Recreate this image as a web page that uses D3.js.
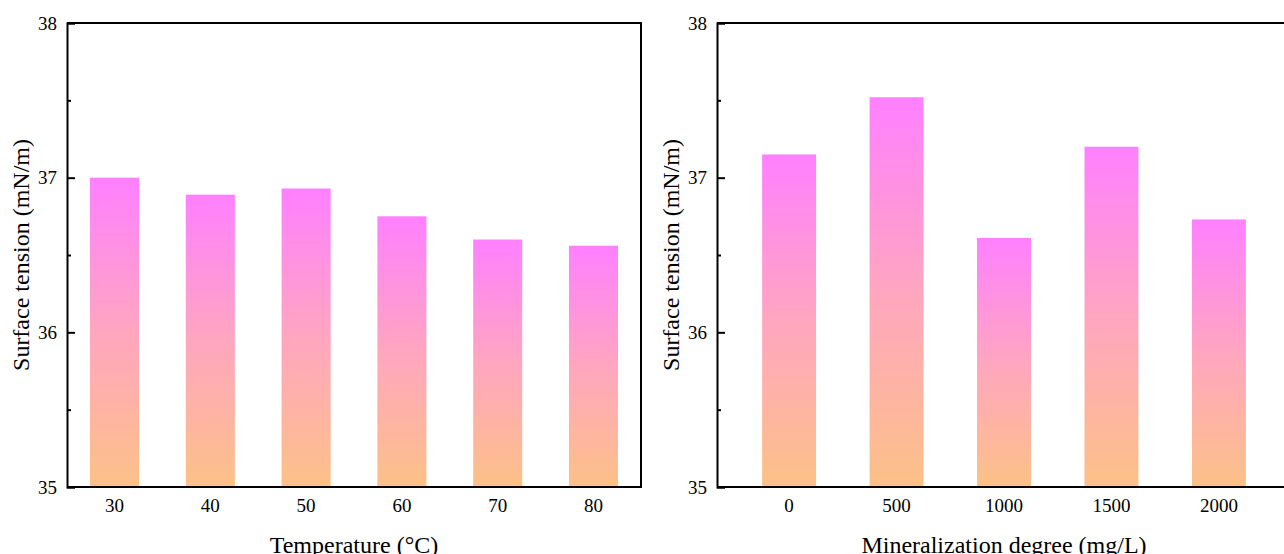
<!DOCTYPE html>
<html>
<head>
<meta charset="utf-8">
<script src="https://cdn.jsdelivr.net/npm/d3@7"></script>
<style>
  body { margin: 0; background: #fff; }
  text { font-family: "Liberation Serif", "Times New Roman", serif; fill: #000; }
</style>
</head>
<body>
<div id="chart-area"></div>
<script>
// Surface tension vs temperature and mineralization
var tempCats = ["30", "40", "50", "60", "70", "80"];
var tempValues = [37.00, 36.89, 36.93, 36.75, 36.60, 36.56];

var minCats = ["0", "500", "1000", "1500", "2000"];
var minValues = [37.15, 37.52, 36.61, 37.20, 36.73];

var yTicks = [35, 36, 37, 38];
var yMinorTicks = [35.5, 36.5, 37.5];

var svg = d3.select("#chart-area").append("svg")
    .attr("width", 1284)
    .attr("height", 554);

var defs = svg.append("defs");
var grad = defs.append("linearGradient")
    .attr("id", "barGrad")
    .attr("x1", 0).attr("y1", 1)
    .attr("x2", 0).attr("y2", 0);
grad.append("stop").attr("offset", "0%").attr("stop-color", "#fcc187");
grad.append("stop").attr("offset", "50%").attr("stop-color", "#ffa6c0");
grad.append("stop").attr("offset", "100%").attr("stop-color", "#ff80ff");

var plotTop = 23, plotBottom = 487, panelW = 574;

function panel(left, cats, values, xTitle, pInner, pOuter, rightBorder) {
    var g = svg.append("g");
    var x = d3.scaleBand().domain(cats).range([left, left + panelW])
        .paddingInner(pInner).paddingOuter(pOuter);
    var y = d3.scaleLinear().domain([35, 38]).range([plotBottom, plotTop]);

    g.selectAll("rect.bar")
        .data(values)
        .enter().append("rect")
        .attr("class", "bar")
        .attr("x", (d, i) => x(cats[i]))
        .attr("width", x.bandwidth())
        .attr("y", (d) => y(d))
        .attr("height", (d) => y(35) - y(d))
        .attr("fill", "url(#barGrad)");

    // frame
    g.append("line").attr("x1", left).attr("x2", left + panelW)
        .attr("y1", plotTop).attr("y2", plotTop)
        .attr("stroke", "#000").attr("stroke-width", 2);
    if (rightBorder) {
        g.append("line").attr("x1", left + panelW).attr("x2", left + panelW)
            .attr("y1", plotTop - 1).attr("y2", plotBottom + 1)
            .attr("stroke", "#000").attr("stroke-width", 2);
    }

    // y axis
    var yAxis = d3.axisLeft(y).tickValues(yTicks).tickSize(-8).tickPadding(10)
        .tickFormat(d3.format("d"));
    var ya = g.append("g").attr("transform", "translate(" + left + ",0)").call(yAxis);
    ya.select(".domain").attr("stroke-width", 2);
    ya.selectAll(".tick line").attr("stroke-width", 2);
    ya.selectAll("text").attr("font-size", "19px")
        .style("font-family", "'Liberation Serif', serif");
    var ym = d3.axisLeft(y).tickValues(yMinorTicks).tickSize(-4).tickFormat("");
    var yb = g.append("g").attr("transform", "translate(" + left + ",0)").call(ym);
    yb.select(".domain").remove();
    yb.selectAll(".tick line").attr("stroke-width", 2);

    // x axis
    var xAxis = d3.axisBottom(x).tickSize(0).tickPadding(12);
    var xa = g.append("g").attr("transform", "translate(0," + plotBottom + ")").call(xAxis);
    xa.select(".domain").attr("stroke-width", 2).attr("d", "M" + left + ",0H" + (left + panelW));
    xa.selectAll("text").attr("font-size", "19px")
        .style("font-family", "'Liberation Serif', serif");

    // labels
    g.append("text")
        .attr("x", left + panelW / 2)
        .attr("y", 553)
        .attr("font-size", "24px")
        .attr("text-anchor", "middle")
        .text(xTitle);
    g.append("text")
        .attr("x", -(plotTop + plotBottom) / 2)
        .attr("y", left - 38)
        .attr("font-size", "24px")
        .attr("text-anchor", "middle")
        .attr("transform", "rotate(-90)")
        .text("Surface tension (mN/m)");
}

panel(67, tempCats, tempValues, "Temperature (\u00B0C)", 0.488, 0.24, true);
panel(717, minCats, minValues, "Mineralization degree (mg/L)", 0.498, 0.42, true);
</script>
</body>
</html>
